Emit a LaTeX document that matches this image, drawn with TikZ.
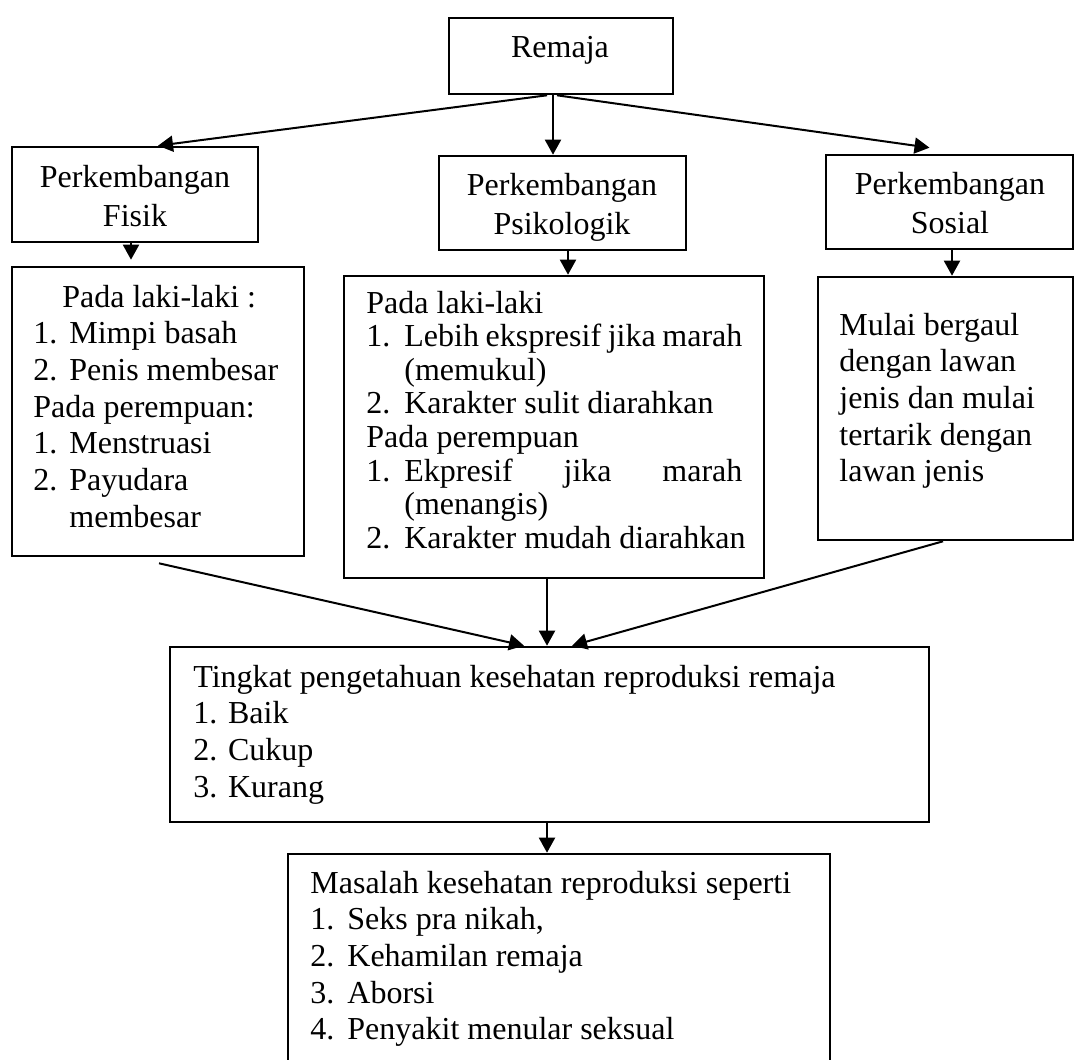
\documentclass[tikz,border=0pt]{standalone}
\usepackage{fontspec}
\setmainfont{Liberation Serif}
\usetikzlibrary{fit, arrows.meta}

\newcommand{\itm}[3][18pt]{\makebox[#1][l]{#2}#3}

\tikzset{
  box/.style={draw, line width=1.3pt, inner sep=0pt},
  arr/.style={-{Triangle[length=7.5pt,width=8pt]}, line width=1pt},
  txt/.style={inner sep=0pt, anchor=base west, font=\fontsize{16}{18.35}\selectfont},
  ttl/.style={inner sep=0pt, anchor=base, font=\fontsize{16}{19.5}\selectfont}
}

\begin{document}
\begin{tikzpicture}[x=0.5pt, y=-0.5pt]
  \useasboundingbox (0,0) rectangle (1075,1059);

  % Boxes
  \node[box, fit={(449,18) (673,94)}] (remaja) {};
  \node[box, fit={(12,147) (258,242)}] (fisik) {};
  \node[box, fit={(439,156) (686,250)}] (psik) {};
  \node[box, fit={(826,155) (1073,249)}] (sosial) {};
  \node[box, fit={(12,267) (304,556)}] (fisiklist) {};
  \node[box, fit={(344,276) (764,578)}] (psiklist) {};
  \node[box, fit={(818,277) (1073,540)}] (sosiallist) {};
  \node[box, fit={(170,647) (929,822)}] (tingkat) {};
  \node[box, fit={(288,854) (830,1080)}] (masalah) {};

  % Titles
  \node[ttl] (remajatxt) at (560,58) {Remaja};
  \node[ttl] (fisiktxt) at (135,188) {\parbox[t]{120pt}{\centering Perkembangan\\Fisik}};
  \node[ttl] (psiktxt) at (562,196) {\parbox[t]{120pt}{\centering Perkembangan\\Psikologik}};
  \node[ttl] (sosialtxt) at (950,195) {\parbox[t]{120pt}{\centering Perkembangan\\Sosial}};

  % Lists
  \node[txt] (fisiklisttxt) at (33,307) {\parbox[t]{140pt}{\raggedright
    \hspace*{14.5pt}Pada laki-laki :\\
    \itm{1.}{Mimpi basah}\\
    \itm{2.}{Penis membesar}\\
    Pada perempuan:\\
    \itm{1.}{Menstruasi}\\
    \itm{2.}{Payudara}\\
    \hspace*{18pt}membesar}};
  \node[txt] (psiklisttxt) at (366,313) {\parbox[t]{190pt}{\raggedright
    \fontsize{16}{16.8}\selectfont
    Pada laki-laki\\
    \itm[19pt]{1.}{\makebox[169pt][s]{Lebih ekspresif jika marah}}\\
    \hspace*{19pt}(memukul)\\
    \itm[19pt]{2.}{Karakter sulit diarahkan}\\
    Pada perempuan\\
    \itm[19pt]{1.}{\makebox[169pt][s]{Ekpresif jika marah}}\\
    \hspace*{19pt}(menangis)\\
    \itm[19pt]{2.}{Karakter mudah diarahkan}}};
  \node[txt] (sosiallisttxt) at (839,335) {\parbox[t]{115pt}{\raggedright
    Mulai bergaul\\
    dengan lawan\\
    jenis dan mulai\\
    tertarik dengan\\
    lawan jenis}};
  \node[txt] (tingkattxt) at (193,687) {\parbox[t]{360pt}{\raggedright
    Tingkat pengetahuan kesehatan reproduksi remaja\\
    1. Baik\\
    2. Cukup\\
    3. Kurang}};
  \node[txt] (masalahtxt) at (310,893) {\parbox[t]{260pt}{\raggedright
    Masalah kesehatan reproduksi seperti\\
    \itm[18.5pt]{1.}{Seks pra nikah,}\\
    \itm[18.5pt]{2.}{Kehamilan remaja}\\
    \itm[18.5pt]{3.}{Aborsi}\\
    \itm[18.5pt]{4.}{Penyakit menular seksual}}};

  % Arrows
  \draw[arr] ([xshift=-7pt]remaja.south) -- ([xshift=11.5pt]fisik.north);
  \draw[arr] ([xshift=-4pt]remaja.south) -- ([xshift=-4.75pt]psik.north);
  \draw[arr] ([xshift=-2pt]remaja.south) -- ([xshift=-10pt,yshift=3pt]sosial.north);
  \draw[arr] ([xshift=-2pt]fisik.south) -- ([xshift=-2pt,yshift=3pt]fisik.south |- fisiklist.north);
  \draw[arr] ([xshift=2.75pt]psik.south) -- ([xshift=2.75pt]psik.south |- psiklist.north);
  \draw[arr] ([xshift=1.25pt]sosial.south) -- ([xshift=1.25pt]sosial.south |- sosiallist.north);
  \draw[arr] ([xshift=0.5pt,yshift=-3pt]fisiklist.south) -- ([xshift=-12.75pt]tingkat.north);
  \draw[arr] ([xshift=-3.5pt]psiklist.south) -- ([xshift=-1.25pt]tingkat.north);
  \draw[arr] ([xshift=-1.25pt]sosiallist.south) -- ([xshift=11.25pt]tingkat.north);
  \draw[arr] ([xshift=-1.25pt]tingkat.south) -- ([xshift=-1.25pt]tingkat.south |- masalah.north);
\end{tikzpicture}
\end{document}
